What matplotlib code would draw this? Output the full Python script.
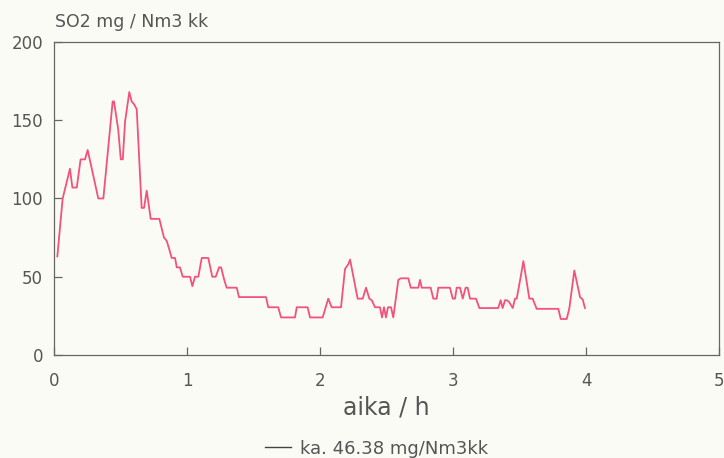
import matplotlib.pyplot as plt

# data (time in hours, SO2 in mg/Nm3)
aika = [0.025, 0.065, 0.12, 0.138, 0.171, 0.20, 0.233, 0.253, 0.333, 0.371,
        0.441, 0.451, 0.483, 0.502, 0.517, 0.534, 0.566, 0.584, 0.604, 0.622,
        0.659, 0.677, 0.697, 0.727, 0.792, 0.827, 0.847, 0.865, 0.885, 0.910,
        0.923, 0.947, 0.968, 1.023, 1.040, 1.060, 1.085, 1.111, 1.160, 1.190,
        1.216, 1.241, 1.256, 1.280, 1.298, 1.374, 1.391, 1.594, 1.611, 1.686,
        1.707, 1.812, 1.825, 1.907, 1.925, 2.020, 2.062, 2.088, 2.158, 2.188,
        2.213, 2.226, 2.283, 2.321, 2.346, 2.371, 2.389, 2.414, 2.451, 2.466,
        2.481, 2.496, 2.511, 2.534, 2.551, 2.589, 2.607, 2.664, 2.682, 2.739,
        2.752, 2.765, 2.832, 2.852, 2.877, 2.889, 2.977, 2.998, 3.015, 3.028,
        3.053, 3.073, 3.095, 3.110, 3.128, 3.173, 3.198, 3.340, 3.358, 3.373,
        3.391, 3.404, 3.421, 3.449, 3.466, 3.479, 3.509, 3.529, 3.574, 3.599,
        3.629, 3.792, 3.810, 3.855, 3.875, 3.912, 3.935, 3.955, 3.975, 3.992]
so2 = [63, 100, 119, 107, 107, 125, 125, 131, 100, 100,
       162, 162, 144, 125, 125, 149, 168, 162, 160, 157,
       94, 94, 105, 87, 87, 75, 73, 68, 62, 62,
       56, 56, 50, 50, 44, 50, 50, 62, 62, 50,
       50, 56, 56, 48, 43, 43, 37, 37, 30.5, 30.5,
       24, 24, 30.5, 30.5, 24, 24, 36, 30.5, 30.5, 55,
       58, 61, 36, 36, 43, 36, 35, 30.5, 30.5, 24,
       30.5, 24, 30.5, 30.5, 24, 48, 49, 49, 43, 43,
       48, 43, 43, 36, 36, 43, 43, 36, 36, 43,
       43, 36, 43, 43, 36, 36, 30, 30, 35, 30,
       35, 35, 34, 30, 36, 36, 50, 60, 36, 36,
       29.5, 29.5, 23, 23, 30, 54, 45, 37, 35.5, 30]
keskiarvo = 46.38

txt = '#555555'
bg = '#fbfbf6'

fig = plt.figure(figsize=(7.24, 4.58), dpi=100, facecolor=bg)
ax = fig.add_axes([0.0746, 0.2249, 0.9185, 0.6834], facecolor=bg)

ax.plot(aika, so2, color='#f2527c', lw=1.3, label='ka. %.2f mg/Nm3kk' % keskiarvo)

ax.set_xlim(0, 5)
ax.set_ylim(0, 200)
ax.set_xticks([0, 1, 2, 3, 4, 5])
ax.set_yticks([0, 50, 100, 150, 200])
ax.tick_params(direction='in', length=6, width=0.9, colors='#666666',
               labelcolor=txt, labelsize=12)
ax.tick_params(axis='x', pad=12)
ax.tick_params(axis='y', pad=8)
for s in ax.spines.values():
    s.set_color('#666666')
    s.set_linewidth(0.9)

ax.set_xlabel('aika / h', fontsize=17, color=txt, labelpad=4)
fig.text(0.076, 0.952, 'SO2 mg / Nm3 kk', fontsize=12.5, color=txt, va='center')

leg = fig.legend(loc='lower center', bbox_to_anchor=(0.52, -0.035), frameon=False,
                 fontsize=13, handlelength=1.4, handletextpad=0.5, labelcolor=txt)
for h in leg.legend_handles:
    h.set_color('#444444')
    h.set_linewidth(1.0)

plt.savefig('out.png', dpi=100, facecolor=bg)
